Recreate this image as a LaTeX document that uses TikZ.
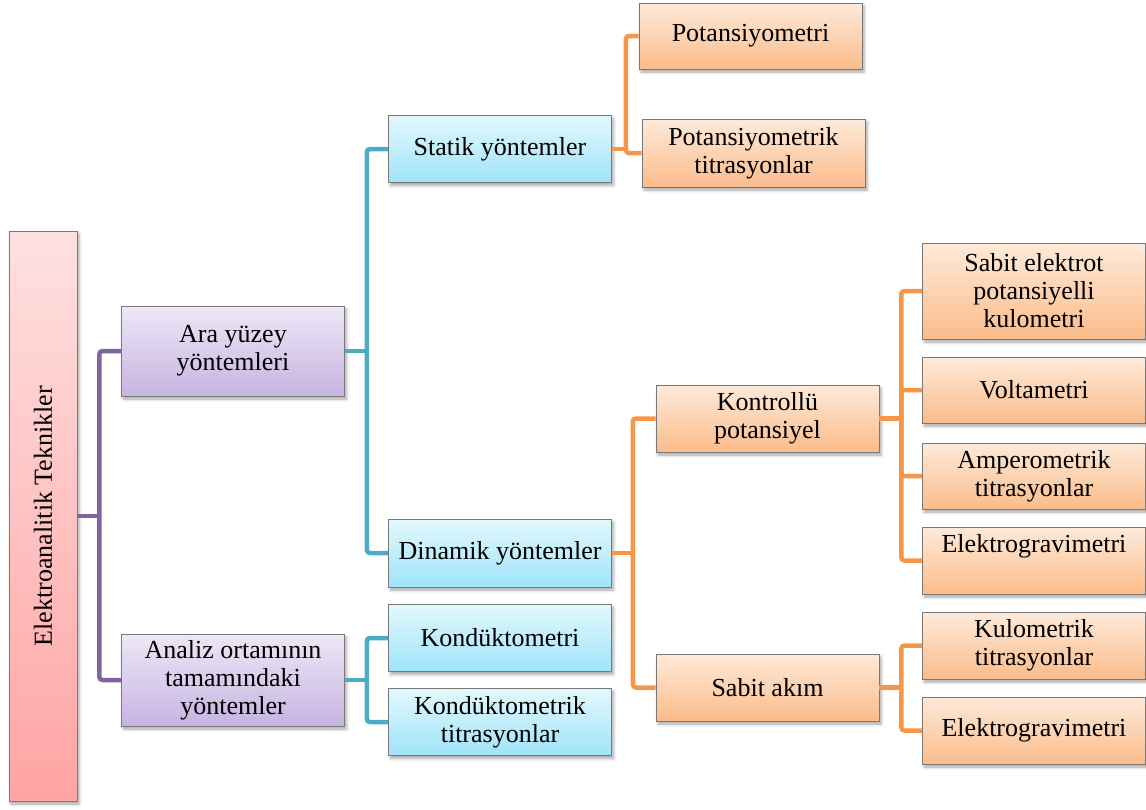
\documentclass[tikz,border=0pt]{standalone}
\usepackage{fontspec}
\setmainfont{Liberation Serif}
\usetikzlibrary{shadows.blur}

% box fills (top / bottom of the vertical gradient)
\definecolor{pinkTop}{RGB}{255,224,224}
\definecolor{pinkBot}{RGB}{255,164,164}
\definecolor{lilacTop}{RGB}{238,231,246}
\definecolor{lilacBot}{RGB}{198,180,226}
\definecolor{skyTop}{RGB}{226,248,253}
\definecolor{skyBot}{RGB}{160,228,250}
\definecolor{peachTop}{RGB}{254,234,218}
\definecolor{peachBot}{RGB}{251,188,138}
\definecolor{boxLine}{RGB}{120,120,120}
% connector colours
\definecolor{lineLilac}{RGB}{128,100,162}
\definecolor{lineTeal}{RGB}{75,172,198}
\definecolor{lineOrange}{RGB}{247,150,70}

\tikzset{
  box/.style={draw=boxLine, line width=0.8pt, inner sep=2pt, align=center,
    minimum width=223pt, minimum height=67pt,
    font=\fontsize{26}{28}\selectfont,
    blur shadow={shadow xshift=2pt, shadow yshift=-3pt,
      shadow blur radius=3pt, shadow opacity=35}},
  pinkbox/.style={box, top color=pinkTop, bottom color=pinkBot},
  lilacbox/.style={box, top color=lilacTop, bottom color=lilacBot},
  skybox/.style={box, top color=skyTop, bottom color=skyBot},
  peachbox/.style={box, top color=peachTop, bottom color=peachBot},
  conn/.style={line width=4.5pt, rounded corners=3pt},
}

\begin{document}
\begin{tikzpicture}[x=1pt, y=-1pt]
\useasboundingbox (0,0) rectangle (1146,809);

% level 0
\node[pinkbox, minimum width=68pt, minimum height=570pt] (root) at (43,516)
  {\rotatebox{90}{Elektroanalitik Teknikler}};

% level 1
\node[lilacbox, minimum height=90pt] (ara) at (233,351) {Ara yüzey\\yöntemleri};
\node[lilacbox, minimum height=92pt] (analiz) at (233,680)
  {Analiz ortamının\\tamamındaki\\yöntemler};

% level 2
\node[skybox] (statik) at (500,149) {Statik yöntemler};
\node[skybox, minimum height=68pt] (dinamik) at (500,553) {Dinamik yöntemler};
\node[skybox] (kond) at (500,638) {Kondüktometri};
\node[skybox] (kondtit) at (500,722) {Kondüktometrik\\titrasyonlar};

% level 3
\node[peachbox, minimum height=66pt] (potm) at (750.5,36) {Potansiyometri};
\node[peachbox, minimum height=68pt] (pottit) at (753.5,153) {Potansiyometrik\\titrasyonlar};
\node[peachbox] (kontrol) at (767.5,418.5) {Kontrollü\\potansiyel};
\node[peachbox] (sabit) at (767.5,687.5) {Sabit akım};

% level 4
\node[peachbox, minimum height=96pt] (kulom) at (1034,291)
  {Sabit elektrot\\potansiyelli\\kulometri};
\node[peachbox, minimum height=66pt] (volt) at (1034,390) {Voltametri};
\node[peachbox, minimum height=66pt] (amper) at (1034,476) {Amperometrik\\titrasyonlar};
\node[peachbox] (grav) at (1034,560.5) {Elektrogravimetri\\[6pt]~};
\node[peachbox] (kulotit) at (1034,645.5) {Kulometrik\\titrasyonlar};
\node[peachbox] (grav2) at (1034,730.5) {Elektrogravimetri};

% connectors: stem out of the parent, then one elbow per child
\draw[conn, lineLilac] (root.east) -- ++(22,0) coordinate (j0);
\draw[conn, lineLilac] (j0) |- (ara.west);
\draw[conn, lineLilac] (j0) |- (analiz.west);

\draw[conn, lineTeal] (ara.east) -- ++(22,0) coordinate (j1);
\draw[conn, lineTeal] (j1) |- (statik.west);
\draw[conn, lineTeal] (j1) |- (dinamik.west);

\draw[conn, lineTeal] (analiz.east) -- ++(22,0) coordinate (j2);
\draw[conn, lineTeal] (j2) |- (kond.west);
\draw[conn, lineTeal] (j2) |- (kondtit.west);

\draw[conn, lineOrange] (statik.east) -- ++(14,0) coordinate (j3);
\draw[conn, lineOrange] (j3) |- (potm.west);
\draw[conn, lineOrange] (j3) |- (pottit.west);

\draw[conn, lineOrange] (dinamik.east) -- ++(21,0) coordinate (j4);
\draw[conn, lineOrange] (j4) |- (kontrol.west);
\draw[conn, lineOrange] (j4) |- (sabit.west);

\draw[conn, lineOrange] (kontrol.east) -- ++(22,0) coordinate (j5);
\draw[conn, lineOrange] (j5) |- (kulom.west);
\draw[conn, lineOrange] (j5) |- (volt.west);
\draw[conn, lineOrange] (j5) |- (amper.west);
\draw[conn, lineOrange] (j5) |- (grav.west);

\draw[conn, lineOrange] (sabit.east) -- ++(22,0) coordinate (j6);
\draw[conn, lineOrange] (j6) |- (kulotit.west);
\draw[conn, lineOrange] (j6) |- (grav2.west);
\end{tikzpicture}
\end{document}
